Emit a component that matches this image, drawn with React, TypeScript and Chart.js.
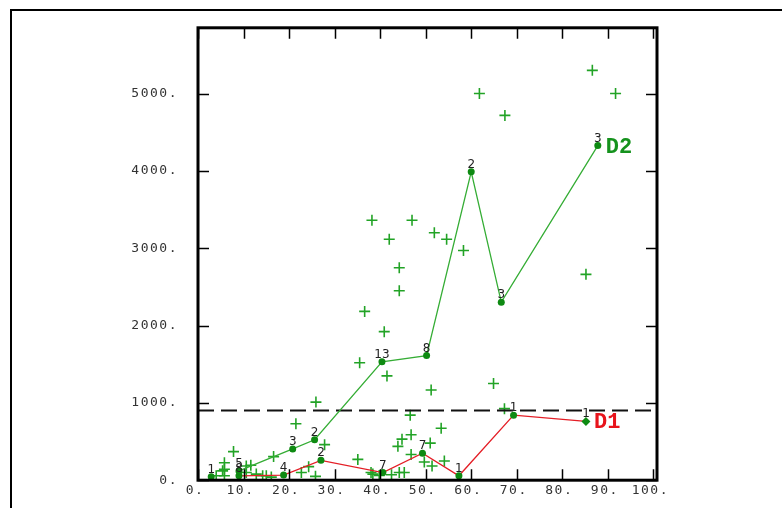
import React, { useEffect, useRef } from "react";
import { Chart, registerables } from "chart.js";

Chart.register(...registerables);

// ---------- data ----------
const X_TICKS = [0, 10, 20, 30, 40, 50, 60, 70, 80, 90, 100];
const Y_TICKS = [0, 1000, 2000, 3000, 4000, 5000];
const X_MAX = 100.8;
const Y_MAX = 5850;
const REF_LEVEL = 900;

const D1_X = [9, 18.8, 27.0, 40.6, 49.3, 57.3, 69.3, 85.2];
const D1_Y = [57, 66, 257, 99, 350, 57, 841, 760];
const D1_N = ["8", "4", "2", "7", "7", "1", "1", "1"];

const D2_X = [9, 20.8, 25.6, 40.4, 50.2, 60.0, 66.6, 87.8];
const D2_Y = [120, 404, 523, 1531, 1611, 3988, 2302, 4327];
const D2_N = ["5", "3", "2", "13", "8", "2", "3", "3"];

const LONE_X = [2.9];
const LONE_Y = [45];
const LONE_N = ["1"];

const OBS_X = [
  86.6, 91.7, 61.8, 67.4, 85.2, 54.6, 58.3, 38.2, 47.0, 42.0, 51.9, 44.2, 44.2,
  36.6, 40.9, 35.5, 41.5, 51.2, 64.9, 67.3, 25.9,
  46.6, 53.4, 46.8, 44.8, 43.9, 51.0, 54.1, 51.4, 49.7, 46.8, 44.2, 45.3, 38.4,
  35.1, 21.5, 27.8, 24.3, 22.7, 25.8, 38.0, 39.8, 42.5,
  7.8, 16.6, 5.8, 5.8, 5.8, 10.6, 11.6, 10.6, 12.8, 15.0, 16.1, 14.2, 4.0, 5.4,
];
const OBS_Y = [
  5300, 5000, 5000, 4717, 2662, 3115, 2971, 3361, 3361, 3115, 3200, 2747, 2450,
  2183, 1921, 1518, 1349, 1166, 1251, 925, 1010,
  841, 671, 587, 531, 438, 480, 248, 184, 235, 333, 99, 99, 79,
  269, 730, 460, 175, 99, 50, 99, 60, 70,
  370, 305, 226, 142, 57, 184, 193, 99, 79, 57, 40, 57, 57, 121,
];

// ---------- styles ----------
const GREEN_LINE = "#35ad35";
const GREEN_MARK = "#0e8a12";
const GREEN_PLUS = "#22a326";
const RED_LINE = "#e41e26";
const TICK_FONT = '"DejaVu Sans Mono", monospace';

const pts = (xs: number[], ys: number[]) => xs.map((x, i) => ({ x, y: ys[i] }));

const decorPlugin = {
  id: "decor",
  beforeDraw(chart: any) {
    const ctx = chart.ctx;
    ctx.save();
    ctx.fillStyle = "#ffffff";
    ctx.fillRect(0, 0, chart.width, chart.height);
    ctx.strokeStyle = "#000";
    ctx.lineWidth = 2;
    ctx.strokeRect(11, 10, 3000, 3000);
    ctx.restore();
    (ctx as any).letterSpacing = "1.5px";
  },
  afterDraw(chart: any) {
    const ctx = chart.ctx;
    (ctx as any).letterSpacing = "0px";
    const a = chart.chartArea;
    const xs = chart.scales.x;
    const ys = chart.scales.y;
    ctx.save();
    // inward tick marks
    ctx.strokeStyle = "#000";
    ctx.lineWidth = 1.5;
    ctx.beginPath();
    X_TICKS.forEach((v) => {
      const px = Math.round(xs.getPixelForValue(v)) + 0.5;
      ctx.moveTo(px, a.bottom);
      ctx.lineTo(px, a.bottom - 11);
      ctx.moveTo(px, a.top);
      ctx.lineTo(px, a.top + 11);
    });
    Y_TICKS.forEach((v) => {
      const py = Math.round(ys.getPixelForValue(v)) + 0.5;
      ctx.moveTo(a.left, py);
      ctx.lineTo(a.left + 11, py);
      ctx.moveTo(a.right, py);
      ctx.lineTo(a.right - 11, py);
    });
    ctx.stroke();
    // frame
    ctx.lineWidth = 3;
    ctx.strokeRect(a.left, a.top, a.right - a.left, a.bottom - a.top);

    // count labels
    ctx.font = '12px "DejaVu Sans", sans-serif';
    ctx.fillStyle = "#222";
    ctx.textAlign = "center";
    ctx.textBaseline = "alphabetic";
    chart.data.datasets.forEach((ds: any, di: number) => {
      if (!ds.counts) return;
      const meta = chart.getDatasetMeta(di);
      meta.data.forEach((el: any, i: number) => {
        ctx.fillText(ds.counts[i], el.x, el.y - 4);
      });
    });

    // series labels
    ctx.font = 'bold 22px "Liberation Mono", monospace';
    ctx.textAlign = "left";
    chart.data.datasets.forEach((ds: any, di: number) => {
      if (!ds.seriesLabel) return;
      const meta = chart.getDatasetMeta(di);
      const el = meta.data[meta.data.length - 1];
      ctx.fillStyle = ds.labelColor;
      ctx.fillText(ds.seriesLabel, el.x + 8, el.y + 7);
    });
    ctx.restore();
  },
};

export default function App() {
  const ref = useRef<HTMLCanvasElement>(null);

  useEffect(() => {
    if (!ref.current) return;
    const d1Styles = D1_X.map((_, i) => (i === D1_X.length - 1 ? "rectRot" : "circle"));
    const d1Radius = D1_X.map((_, i) => (i === D1_X.length - 1 ? 4.5 : 3.5));
    const chart = new Chart(ref.current, {
      type: "scatter",
      data: {
        datasets: [
          {
            data: pts(LONE_X, LONE_Y),
            counts: LONE_N,
            showLine: false,
            pointRadius: 3.5,
            pointBackgroundColor: GREEN_MARK,
            pointBorderWidth: 0,
          } as any,
          {
            data: pts(D2_X, D2_Y),
            counts: D2_N,
            seriesLabel: "D2",
            labelColor: "#15921d",
            showLine: true,
            borderColor: GREEN_LINE,
            borderWidth: 1.3,
            pointRadius: 3.5,
            pointBackgroundColor: GREEN_MARK,
            pointBorderWidth: 0,
          } as any,
          {
            data: pts(D1_X, D1_Y),
            counts: D1_N,
            seriesLabel: "D1",
            labelColor: "#e8141c",
            showLine: true,
            borderColor: RED_LINE,
            borderWidth: 1.3,
            pointRadius: d1Radius,
            pointStyle: d1Styles,
            pointBackgroundColor: GREEN_MARK,
            pointBorderWidth: 0,
          } as any,
          {
            data: [
              { x: 0, y: REF_LEVEL },
              { x: X_MAX, y: REF_LEVEL },
            ],
            showLine: true,
            borderColor: "#111",
            borderWidth: 2,
            borderDash: [16, 7],
            pointRadius: 0,
          } as any,
          {
            data: pts(OBS_X, OBS_Y),
            showLine: false,
            pointStyle: "cross",
            pointRadius: 5.5,
            borderColor: GREEN_PLUS,
            pointBorderColor: GREEN_PLUS,
            pointBorderWidth: 1.6,
            borderWidth: 1.6,
          } as any,
        ],
      },
      options: {
        animation: false,
        responsive: false,
        devicePixelRatio: 1,
        events: [],
        layout: { padding: { top: 24, right: 125, left: 0, bottom: 0 } },
        plugins: { legend: { display: false }, tooltip: { enabled: false } },
        scales: {
          x: {
            type: "linear",
            min: 0,
            max: X_MAX,
            afterFit: (s: any) => {
              s.height = 23;
            },
            afterBuildTicks: (s: any) => {
              s.ticks = X_TICKS.map((v) => ({ value: v }));
            },
            grid: { display: false, drawTicks: false },
            border: { display: false },
            ticks: {
              autoSkip: false,
              maxRotation: 0,
              padding: 3,
              labelOffset: -3,
              color: "#333",
              font: { family: TICK_FONT, size: 13 },
              callback: (v: any) => v + ".",
            },
          },
          y: {
            type: "linear",
            min: 0,
            max: Y_MAX,
            afterFit: (s: any) => {
              s.width = 198;
            },
            afterBuildTicks: (s: any) => {
              s.ticks = Y_TICKS.map((v) => ({ value: v }));
            },
            grid: { display: false, drawTicks: false },
            border: { display: false },
            ticks: {
              autoSkip: false,
              padding: 20,
              color: "#333",
              font: { family: TICK_FONT, size: 13 },
              callback: (v: any) => v + ".",
            },
          },
        },
      } as any,
      plugins: [decorPlugin],
    });
    return () => chart.destroy();
  }, []);

  return (
    <div style={{ position: "fixed", left: 0, top: 0, width: 782, height: 508, background: "#fff" }}>
      <canvas ref={ref} width={782} height={508} style={{ display: "block", width: 782, height: 508 }} />
    </div>
  );
}
